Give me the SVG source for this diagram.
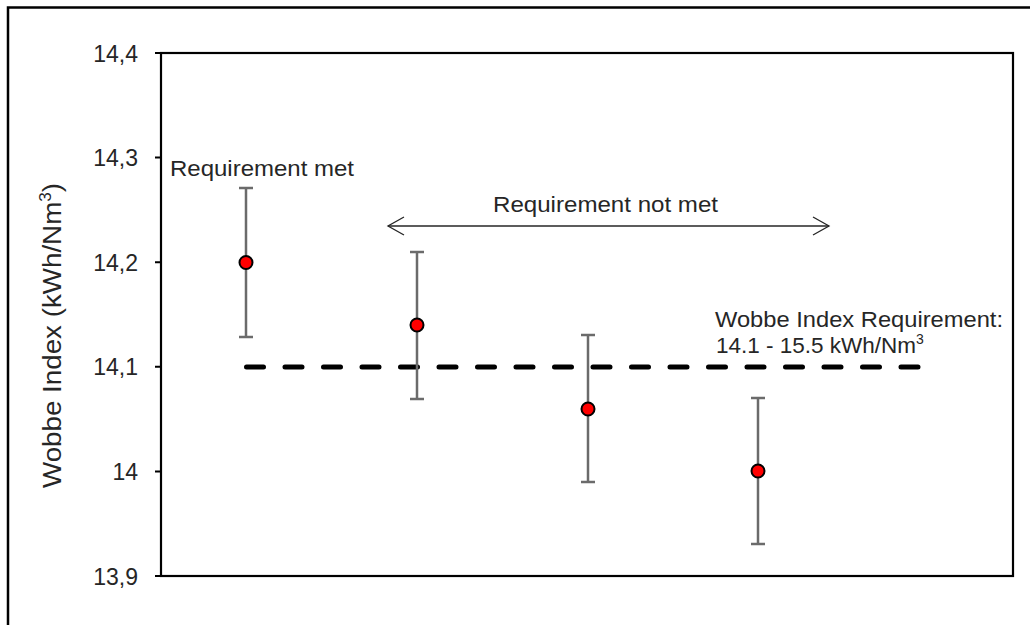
<svg xmlns="http://www.w3.org/2000/svg" width="1030" height="625" viewBox="0 0 1030 625">
<defs>
<style>
.t{font-family:"Liberation Sans",Arial,sans-serif;fill:#262626}
.tick{font-size:23px;text-anchor:end}
.lbl{font-size:22.5px}
.eb{stroke:#6b6b6b;stroke-width:2.5;fill:none}
.pt{fill:#ff0000;stroke:#000;stroke-width:2}
</style>
<marker id="ah" viewBox="0 0 20 20" refX="18" refY="10" markerWidth="20" markerHeight="20" markerUnits="userSpaceOnUse" orient="auto-start-reverse">
<path d="M2,1 L18,10 L2,19" fill="none" stroke="#262626" stroke-width="1.3"/>
</marker>
</defs>
<rect width="1030" height="625" fill="#fff"/>
<rect x="8" y="7.5" width="1040" height="640" fill="none" stroke="#000" stroke-width="2.5"/>
<g id="axes">
<rect x="161" y="53" width="852" height="523" fill="none" stroke="#000" stroke-width="2.2"/>
<path d="M155,53H161M155,157.6H161M155,262.2H161M155,366.8H161M155,471.4H161M155,576H161" stroke="#000" stroke-width="2"/>
<text class="t tick" x="138" y="61.5">14,4</text>
<text class="t tick" x="138" y="166">14,3</text>
<text class="t tick" x="138" y="270.5">14,2</text>
<text class="t tick" x="138" y="375">14,1</text>
<text class="t tick" x="138" y="480">14</text>
<text class="t tick" x="138" y="584.5">13,9</text>
<text class="t" font-size="26" transform="translate(61,335.5) rotate(-90)" text-anchor="middle" textLength="305" lengthAdjust="spacingAndGlyphs">Wobbe Index (kWh/Nm<tspan font-size="16" dy="-10">3</tspan><tspan dy="10">)</tspan></text>
</g>
<g id="connectors">
<line x1="246.5" y1="367" x2="919.5" y2="367" stroke="#000" stroke-width="5" stroke-linecap="round" stroke-dasharray="17 21.5"/>
<line x1="388" y1="226" x2="829" y2="226" stroke="#262626" stroke-width="1.3" marker-start="url(#ah)" marker-end="url(#ah)"/>
</g>
<g id="p1">
<path class="eb" d="M246,188V337M239,188H253M239,337H253"/>
<circle class="pt" cx="246" cy="262.5" r="6.5"/>
</g>
<g id="p2">
<path class="eb" d="M417,252V399M410,252H424M410,399H424"/>
<circle class="pt" cx="417" cy="325" r="6.5"/>
</g>
<g id="p3">
<path class="eb" d="M588,335V482M581,335H595M581,482H595"/>
<circle class="pt" cx="588" cy="409" r="6.5"/>
</g>
<g id="p4">
<path class="eb" d="M758,398V544M751,398H765M751,544H765"/>
<circle class="pt" cx="758" cy="471" r="6.5"/>
</g>
<g id="labels">
<text class="t lbl" x="170" y="175.5" textLength="184" lengthAdjust="spacingAndGlyphs">Requirement met</text>
<text class="t lbl" x="493" y="211.5" textLength="225" lengthAdjust="spacingAndGlyphs">Requirement not met</text>
<text class="t lbl" x="715" y="326.5" textLength="288" lengthAdjust="spacingAndGlyphs">Wobbe Index Requirement:</text>
<text class="t lbl" x="716" y="353">14.1 - 15.5 kWh/Nm<tspan font-size="14" dy="-9">3</tspan></text>
</g>
</svg>
